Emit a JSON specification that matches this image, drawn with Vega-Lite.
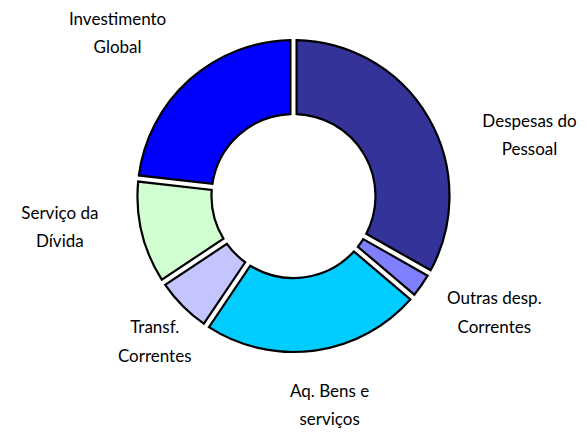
{
  "$schema": "https://vega.github.io/schema/vega-lite/v6.json",
  "width": 587,
  "height": 392,
  "autosize": "none",
  "padding": {"left": 0, "top": 0, "right": 0, "bottom": 40},
  "background": "white",
  "data": {
    "values": [
      {"cat": "Despesas do\nPessoal", "order": 1, "value": 33.2},
      {"cat": "Outras desp.\nCorrentes", "order": 2, "value": 3.0},
      {"cat": "Aq. Bens e\nserviços", "order": 3, "value": 23.2},
      {"cat": "Transf.\nCorrentes", "order": 4, "value": 6.25},
      {"cat": "Serviço da\nDívida", "order": 5, "value": 11.1},
      {"cat": "Investimento\nGlobal", "order": 6, "value": 23.2}
    ]
  },
  "encoding": {
    "theta": {"field": "value", "type": "quantitative", "stack": true},
    "order": {"field": "order", "type": "quantitative"}
  },
  "layer": [
    {
      "mark": {"type": "arc", "innerRadius": 82, "outerRadius": 156, "padAngle": 0.035, "stroke": "black", "strokeWidth": 2.2, "strokeJoin": "miter"},
      "encoding": {
        "color": {
          "field": "cat", "type": "nominal", "legend": null,
          "scale": {
            "domain": ["Despesas do\nPessoal", "Outras desp.\nCorrentes", "Aq. Bens e\nserviços", "Transf.\nCorrentes", "Serviço da\nDívida", "Investimento\nGlobal"],
            "range": ["#333399", "#8080FF", "#00CCFF", "#C4C4FF", "#D2FFD2", "#0000FF"]
          }
        }
      }
    },
    {
      "mark": {"type": "text", "radius": 228, "dx": 39, "dy": 41, "font": "Lato", "fontSize": 17, "lineBreak": "\n", "lineHeight": 28, "baseline": "middle", "align": "center", "color": "black"},
      "encoding": {"text": {"condition": {"test": "datum.order == 1", "field": "cat"}, "value": ""}}
    },
    {
      "mark": {"type": "text", "radius": 228, "dx": 14, "dy": -28, "font": "Lato", "fontSize": 17, "lineBreak": "\n", "lineHeight": 29, "baseline": "middle", "align": "center", "color": "black"},
      "encoding": {"text": {"condition": {"test": "datum.order == 2", "field": "cat"}, "value": ""}}
    },
    {
      "mark": {"type": "text", "radius": 228, "dx": 5, "dy": -30, "font": "Lato", "fontSize": 17, "lineBreak": "\n", "lineHeight": 28, "baseline": "middle", "align": "center", "color": "black"},
      "encoding": {"text": {"condition": {"test": "datum.order == 3", "field": "cat"}, "value": ""}}
    },
    {
      "mark": {"type": "text", "radius": 228, "dx": 23, "dy": -29, "font": "Lato", "fontSize": 17, "lineBreak": "\n", "lineHeight": 29, "baseline": "middle", "align": "center", "color": "black"},
      "encoding": {"text": {"condition": {"test": "datum.order == 4", "field": "cat"}, "value": ""}}
    },
    {
      "mark": {"type": "text", "radius": 228, "dx": -12, "dy": -35, "font": "Lato", "fontSize": 17, "lineBreak": "\n", "lineHeight": 28, "baseline": "middle", "align": "center", "color": "black"},
      "encoding": {"text": {"condition": {"test": "datum.order == 5", "field": "cat"}, "value": ""}}
    },
    {
      "mark": {"type": "text", "radius": 228, "dx": -24, "dy": -6, "font": "Lato", "fontSize": 17, "lineBreak": "\n", "lineHeight": 28, "baseline": "middle", "align": "center", "color": "black"},
      "encoding": {"text": {"condition": {"test": "datum.order == 6", "field": "cat"}, "value": ""}}
    }
  ]
}
